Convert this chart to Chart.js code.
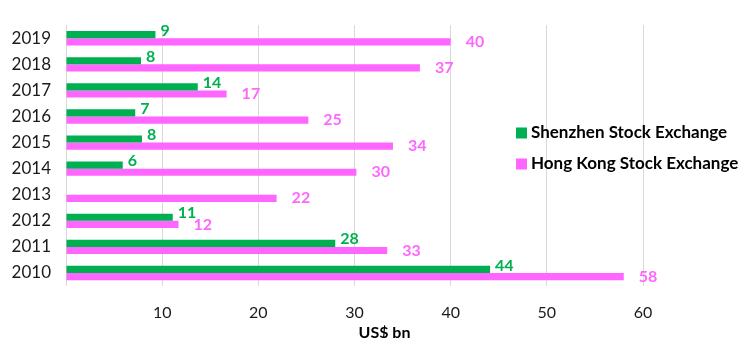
<!DOCTYPE html>
<html>
<head>
<meta charset="utf-8">
<script src="https://cdn.jsdelivr.net/npm/chart.js@4/dist/chart.umd.min.js"></script>
<style>
html,body{margin:0;padding:0;background:#fff;}
#wrap{width:739px;height:338px;position:relative;}
</style>
</head>
<body>
<div id="wrap"><canvas id="c" width="739" height="338"></canvas></div>
<script>
const years = ['2019','2018','2017','2016','2015','2014','2013','2012','2011','2010'];
const shenzhen = [9.3, 7.8, 13.7, 7.2, 7.9, 5.9, null, 11.1, 28.0, 44.1];
const hongkong = [40.0, 36.8, 16.7, 25.2, 34.0, 30.2, 21.9, 11.7, 33.4, 58.0];
const xTicks = [0, 10, 20, 30, 40, 50, 60];
const seriesNames = ['Shenzhen Stock Exchange', 'Hong Kong Stock Exchange'];
const seriesColors = ['#00B050', '#FF66FF'];
const axisTitle = 'US$ bn';

const FONT = 'Lato, "Open Sans", sans-serif';

const labelPlugin = {
  id: 'valueLabels',
  afterDatasetsDraw(chart) {
    const ctx = chart.ctx;
    ctx.save();
    ctx.font = 'bold 16px ' + FONT;
    ctx.textBaseline = 'middle';
    ctx.textAlign = 'left';
    chart.data.datasets.forEach((ds, di) => {
      const meta = chart.getDatasetMeta(di);
      meta.data.forEach((el, i) => {
        const v = ds.data[i];
        if (v === null || v === undefined) return;
        ctx.fillStyle = ds.backgroundColor;
        const gap = di === 0 ? 5 : 15;
        const dy = di === 0 ? -4 : 0;
        ctx.fillText(String(Math.round(v)), el.x + gap, el.y + dy);
      });
    });
    ctx.restore();
  }
};

const legendPlugin = {
  id: 'customLegend',
  afterDraw(chart) {
    const ctx = chart.ctx;
    ctx.save();
    ctx.font = 'bold 17px ' + FONT;
    ctx.textBaseline = 'middle';
    ctx.textAlign = 'left';
    const x0 = 516, ys = [133, 164];
    chart.data.datasets.forEach((ds, di) => {
      ctx.fillStyle = ds.backgroundColor;
      ctx.fillRect(x0, ys[di] - 5.5, 11, 11);
      ctx.fillStyle = '#000';
      ctx.fillText(ds.label, x0 + 15, ys[di]);
    });
    ctx.restore();
  }
};

const titlePlugin = {
  id: 'axisTitle',
  afterDraw(chart) {
    const ctx = chart.ctx;
    const a = chart.chartArea;
    ctx.save();
    ctx.font = 'bold 16px ' + FONT;
    ctx.fillStyle = '#000';
    ctx.textAlign = 'center';
    ctx.textBaseline = 'top';
    ctx.fillText(axisTitle, (a.left + a.right) / 2 + 30, 325);
    ctx.restore();
  }
};

new Chart(document.getElementById('c'), {
  type: 'bar',
  data: {
    labels: years,
    datasets: [
      { label: seriesNames[0], data: shenzhen, backgroundColor: seriesColors[0], categoryPercentage: 0.55, barPercentage: 1.0 },
      { label: seriesNames[1], data: hongkong, backgroundColor: seriesColors[1], categoryPercentage: 0.55, barPercentage: 1.0 }
    ]
  },
  options: {
    indexAxis: 'y',
    responsive: false,
    animation: false,
    layout: { padding: { top: 15, right: 96, left: 0, bottom: 0 } },
    plugins: { legend: { display: false }, tooltip: { enabled: false } },
    scales: {
      x: {
        min: xTicks[0], max: xTicks[xTicks.length - 1],
        afterBuildTicks(scale) { scale.ticks = xTicks.map(v => ({ value: v })); },
        grid: { color: '#d9d9d9', lineWidth: 1, drawTicks: false },
        border: { display: false },
        ticks: {
          padding: 17,
          color: '#1a1a1a',
          font: { family: FONT, size: 16 },
          callback: (v) => v === 0 ? '' : String(v)
        },
        afterFit(scale) { scale.height = 52; }
      },
      y: {
        grid: { display: false, drawTicks: false },
        border: { display: false },
        ticks: {
          padding: 15,
          color: '#1a1a1a',
          font: { family: FONT, size: 17 }
        },
        afterFit(scale) { scale.width = 66; }
      }
    }
  },
  plugins: [labelPlugin, legendPlugin, titlePlugin]
});
</script>
</body>
</html>
